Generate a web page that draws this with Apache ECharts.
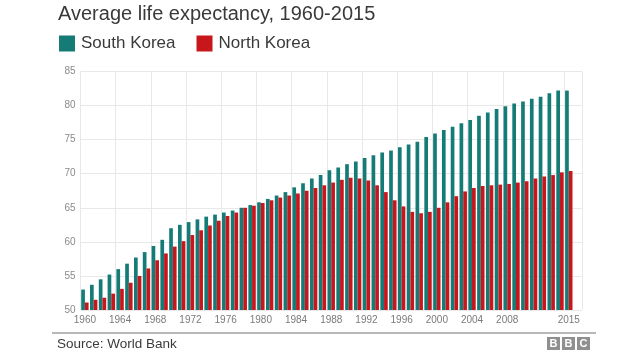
<!DOCTYPE html>
<html>
<head>
<meta charset="utf-8">
<script src="https://cdn.jsdelivr.net/npm/echarts@6/dist/echarts.min.js"></script>
<style>html,body{margin:0;padding:0;background:#fff}#c{width:640px;height:360px}</style>
</head>
<body>
<div id="c"></div>
<script>
var years = [];
for (var y = 1960; y <= 2015; y++) years.push(String(y));
var southKorea = [53.0,53.7,54.5,55.2,56.0,56.8,57.7,58.5,59.4,60.3,
  62.0,62.5,62.9,63.3,63.7,64.0,64.3,64.6,65.0,65.4,
  65.8,66.3,66.8,67.3,68.0,68.6,69.3,69.8,70.5,70.9,
  71.4,71.8,72.3,72.7,73.1,73.4,73.9,74.3,74.7,75.4,
  75.9,76.4,76.9,77.4,77.9,78.5,79.0,79.5,79.9,80.3,
  80.6,81.0,81.3,81.8,82.2,82.2];
var northKorea = [51.1,51.5,51.8,52.4,53.1,54.0,55.0,56.1,57.3,58.3,
  59.3,60.1,61.0,61.7,62.4,63.1,63.8,64.3,65.0,65.3,
  65.7,66.1,66.5,66.8,67.1,67.5,67.9,68.3,68.7,69.1,
  69.4,69.3,69.0,68.3,67.3,66.1,65.2,64.4,64.2,64.4,
  65.0,65.8,66.7,67.4,67.9,68.2,68.3,68.4,68.5,68.7,
  68.9,69.3,69.6,69.8,70.2,70.4];
var yTicks = {min: 50, max: 85, step: 5};
var shownYears = ['1960','1964','1968','1972','1976','1980','1984','1988','1992','1996','2000','2004','2008','2015'];

var FONT = '"Liberation Sans", Arial, Helvetica, sans-serif';
var TEAL = '#147b77', RED = '#c8161d';
function showIdx(i) { return shownYears.indexOf(years[i]) >= 0; }

var chart = echarts.init(document.getElementById('c'), null, {renderer: 'canvas'});
chart.setOption({
  animation: false,
  backgroundColor: '#fff',
  textStyle: {fontFamily: FONT},
  title: {
    text: 'Average life expectancy, 1960-2015',
    left: 58, top: 4, padding: 0,
    textStyle: {fontSize: 20, fontWeight: 'normal', color: '#3a3a3a', fontFamily: FONT}
  },
  legend: {
    left: 59, top: 35, padding: 0,
    icon: 'rect', itemWidth: 16, itemHeight: 16, itemGap: 21,
    textStyle: {fontSize: 17, color: '#3a3a3a', fontFamily: FONT, padding: [0,0,0,1]},
    data: ['South Korea', 'North Korea']
  },
  grid: {left: 80.5, top: 71.5, width: 501.5, height: 238.5, containLabel: false},
  xAxis: {
    type: 'category',
    data: years,
    max: years.length,
    axisLine: {show: false},
    axisTick: {show: false, interval: function (i) { return showIdx(i); }},
    axisLabel: {
      interval: function (i) { return showIdx(i); },
      fontSize: 10, color: '#7a7a7a', margin: 5, fontFamily: FONT
    },
    splitLine: {show: true, interval: function (i) { return showIdx(i); }, lineStyle: {color: '#e8e8e8', width: 1}}
  },
  yAxis: {
    type: 'value',
    min: yTicks.min, max: yTicks.max, interval: yTicks.step,
    axisLine: {show: false}, axisTick: {show: false},
    axisLabel: {fontSize: 10, color: '#8a8a8a', margin: 5, fontFamily: FONT},
    splitLine: {lineStyle: {color: '#e8e8e8', width: 1}}
  },
  series: [
    {name: 'South Korea', type: 'bar', data: southKorea, itemStyle: {color: TEAL},
     barCategoryGap: '16%', barGap: '0%'},
    {name: 'North Korea', type: 'bar', data: northKorea, itemStyle: {color: RED},
     barCategoryGap: '16%', barGap: '0%'}
  ],
  graphic: [
    {type: 'line', shape: {x1: 52, y1: 333, x2: 596, y2: 333}, style: {stroke: '#b8b8b8', lineWidth: 2}},
    {type: 'text', left: 57, top: 337, style: {text: 'Source: World Bank', fill: '#3a3a3a', font: '13.5px ' + FONT}},
    {type: 'group', left: 547, top: 337, children: [
      {type: 'rect', shape: {x: 0, y: 0, width: 13, height: 13}, style: {fill: '#8f8f8f'}},
      {type: 'rect', shape: {x: 15, y: 0, width: 13, height: 13}, style: {fill: '#8f8f8f'}},
      {type: 'rect', shape: {x: 30, y: 0, width: 13, height: 13}, style: {fill: '#8f8f8f'}},
      {type: 'text', x: 6.5, y: 7, style: {text: 'B', fill: '#fff', font: 'bold 11px ' + FONT, textAlign: 'center', textVerticalAlign: 'middle'}},
      {type: 'text', x: 21.5, y: 7, style: {text: 'B', fill: '#fff', font: 'bold 11px ' + FONT, textAlign: 'center', textVerticalAlign: 'middle'}},
      {type: 'text', x: 36.5, y: 7, style: {text: 'C', fill: '#fff', font: 'bold 11px ' + FONT, textAlign: 'center', textVerticalAlign: 'middle'}}
    ]}
  ]
});
</script>
</body>
</html>
